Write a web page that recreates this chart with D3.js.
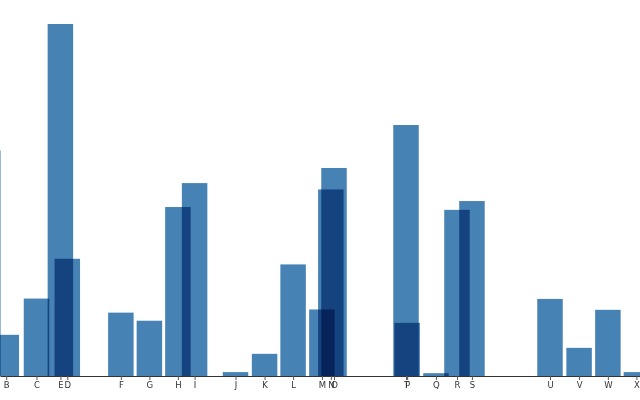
<!DOCTYPE html>
<html>
<head>
<meta charset="utf-8">
<script src="https://cdn.jsdelivr.net/npm/d3@7"></script>
<style>
  body { margin: 0; background: #fff; }
  .bar { fill: steelblue; mix-blend-mode: multiply; }
  .x-axis text { font-family: "DejaVu Sans", sans-serif; font-size: 8.5px; fill: #333; }
  .x-axis path { stroke: #333; }
  .x-axis line { stroke: #555; }
</style>
</head>
<body>
<div id="chart"></div>
<script>
/* ---------------- DATA ---------------- */

const labels = ["A", "B", "C", "E", "D", "F", "G", "H", "I", "J", "K", "L",
  "M", "N", "O", "T", "P", "Q", "R", "S", "U", "V", "W", "X"];

// position along the x axis (units ~ one slot)
const positions = [-0.64, 0, 1.05, 1.88, 2.12, 3.98, 4.97, 5.96, 6.54, 7.96, 8.97, 9.96,
  10.96, 11.27, 11.38, 13.88, 13.92, 14.92, 15.65, 16.17, 18.88, 19.89, 20.89, 21.88];

const values = [64.1, 11.7, 22.0, 100, 33.3, 18.0, 15.7, 48.0, 54.8, 1.1, 6.3, 31.7,
  18.9, 53.0, 59.1, 71.3, 15.1, 0.8, 47.2, 49.7, 21.9, 8.0, 18.8, 1.1];

const data = labels.map((label, i) => ({
  label: label,
  pos: positions[i],
  value: values[i]
}));

/* ---------------- CHART ---------------- */

const width = 640;
const height = 400;
const baseline = 376;
const barWidth = 0.885;

const svg = d3.select("#chart")
  .append("svg")
  .attr("width", width)
  .attr("height", height);

const xScale = d3.scaleLinear()
  .domain([-0.217, 22.005])
  .range([0, width]);

const yScale = d3.scaleLinear()
  .domain([0, 100])
  .range([baseline, 24]);

svg.append("g")
  .attr("class", "bars")
  .selectAll("rect")
  .data(data)
  .join("rect")
  .attr("class", "bar")
  .attr("x", d => xScale(d.pos - barWidth / 2))
  .attr("width", d => xScale(d.pos + barWidth / 2) - xScale(d.pos - barWidth / 2))
  .attr("y", d => yScale(d.value))
  .attr("height", d => yScale(0) - yScale(d.value));

const xAxis = d3.axisBottom(xScale)
  .tickValues(positions)
  .tickFormat((d, i) => labels[i])
  .tickSize(4)
  .tickSizeOuter(0);

svg.append("g")
  .attr("class", "x-axis")
  .attr("transform", `translate(0,${baseline})`)
  .call(xAxis)
  .call(g => g.selectAll("text").attr("dy", "0.75em").attr("y", 6));
</script>
</body>
</html>
